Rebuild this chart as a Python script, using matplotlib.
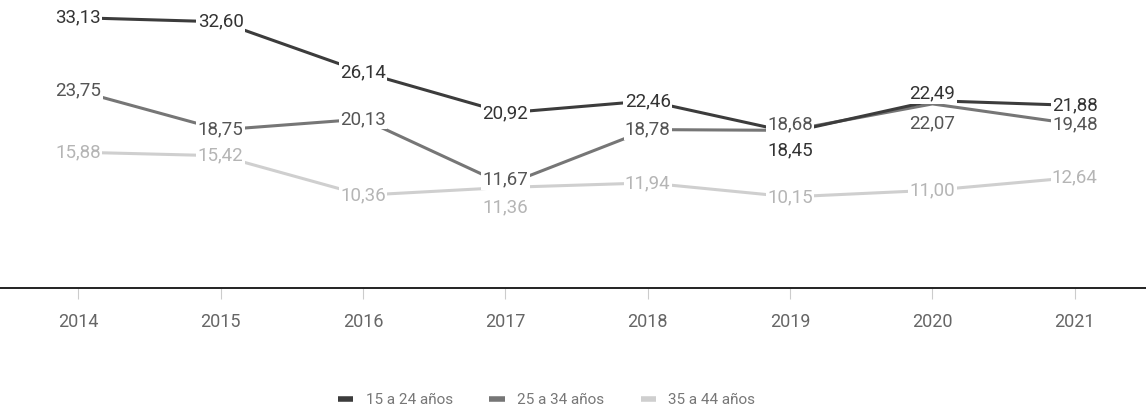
import matplotlib.pyplot as plt

plt.rcParams['font.family'] = ['Roboto', 'DejaVu Sans']

anios = [2014, 2015, 2016, 2017, 2018, 2019, 2020, 2021]
grupo_15_24 = [33.13, 32.60, 26.14, 20.92, 22.46, 18.45, 22.49, 21.88]
grupo_25_34 = [23.75, 18.75, 20.13, 11.67, 18.78, 18.68, 22.07, 19.48]
grupo_35_44 = [15.88, 15.42, 10.36, 11.36, 11.94, 10.15, 11.00, 12.64]
nombres = ['15 a 24 años', '25 a 34 años', '35 a 44 años']

series = [grupo_15_24, grupo_25_34, grupo_35_44]
colores_linea = ['#3c3c3c', '#767676', '#cfcfcf']
colores_texto = ['#333333', '#555555', '#b5b5b5']

# desplazamiento vertical (pt) de algunas etiquetas que se solapan
desplaz = {(0, 5): -13, (1, 5): 4, (0, 6): 5, (1, 6): -14, (1, 3): 4, (2, 3): -14}

fig = plt.figure(figsize=(11.46, 4.11), dpi=100)
ax = fig.add_axes([0, 0.30, 1, 0.70])

for i, valores in enumerate(series):
    z = 10 - i
    ax.plot(anios, valores, color=colores_linea[i], lw=2.2, label=nombres[i],
            zorder=z, solid_capstyle='butt')
    for j, (x, y) in enumerate(zip(anios, valores)):
        dy = desplaz.get((i, j), 0)
        ax.annotate(f'{y:.2f}'.replace('.', ','), (x, y), xytext=(0, dy),
                    textcoords='offset points', ha='center', va='center',
                    fontsize=13.5, color=colores_texto[i], zorder=20 - i,
                    bbox=dict(fc='white', ec='none', pad=1.0))

ax.set_xlim(2013.45, 2021.5)
ax.set_ylim(-1.5, 35.4)
ax.set_yticks([])
for s in ['top', 'right', 'left']:
    ax.spines[s].set_visible(False)
ax.spines['bottom'].set_color('#222222')
ax.spines['bottom'].set_linewidth(1.4)
ax.set_xticks(anios)
ax.set_xticklabels([str(a) for a in anios])
ax.tick_params(axis='x', length=8, width=0.8, color='#cccccc',
               labelsize=13, labelcolor='#666666', pad=10)

ax.legend(loc='center', bbox_to_anchor=(0.477, -0.39), ncol=3, frameon=False,
          fontsize=11, labelcolor='#777777', handlelength=1.0, handleheight=0.3,
          columnspacing=2.4, handletextpad=0.8)
leg = ax.get_legend()
for h in leg.legend_handles:
    h.set_linewidth(4)

fig.savefig('out.png', dpi=100)
